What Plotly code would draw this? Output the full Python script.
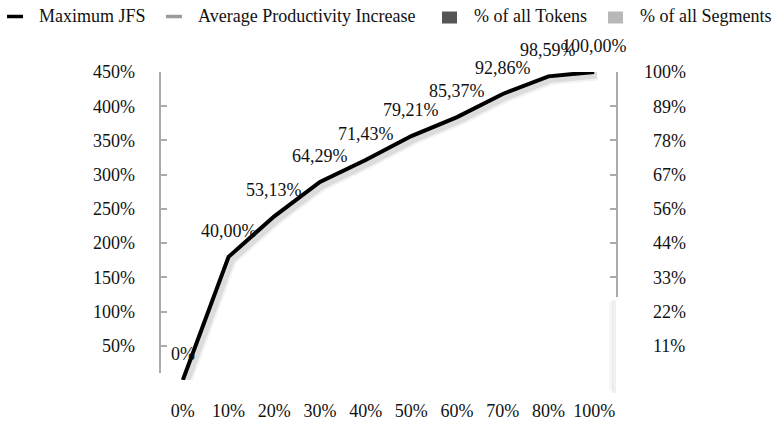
import plotly.graph_objects as go

# ---- data -------------------------------------------------------------
categories = ["0%", "10%", "20%", "30%", "40%", "50%", "60%", "70%", "80%", "100%"]
max_jfs = [0.0, 40.00, 53.13, 64.29, 71.43, 79.21, 85.37, 92.86, 98.59, 100.00]
avg_productivity = []     # series listed in the legend, no points
tokens_share = []         # bar series listed in the legend, no bars
segments_share = []

left_tick_vals = [0, 50, 100, 150, 200, 250, 300, 350, 400, 450]
left_tick_text = ["", "50%", "100%", "150%", "200%", "250%", "300%", "350%", "400%", "450%"]
right_tick_text = ["11%", "22%", "33%", "44%", "56%", "67%", "78%", "89%", "100%"]

legend_names = ["Maximum JFS", "Average Productivity Increase", "% of all Tokens", "% of all Segments"]
legend_kinds = ["line", "line", "box", "box"]
legend_colors = ["#000000", "#9a9a9a", "#555555", "#b8b8b8"]

# ---- styling ----------------------------------------------------------
W, H = 780, 422
M_L, M_R, M_T, M_B = 160, 163, 72, 42
PW, PH = W - M_L - M_R, H - M_T - M_B
FONT = dict(family="Liberation Serif, Times New Roman, serif", size=18, color="#111111")
AXIS_GREY = "#ababab"


def px_x(px):
    return (px - M_L) / PW


def px_y(py):
    return (H - M_B - py) / PH


def fmt_pct(v):
    return "0%" if v == 0 else f"{v:.2f}".replace(".", ",") + "%"


right_tick_vals = [100 * (k + 1) / len(right_tick_text) for k in range(len(right_tick_text))]
widest = max(len(t) for t in right_tick_text)
right_tick_padded = ["\u00a0" * (2 * (widest - len(t))) + t for t in right_tick_text]

n = len(categories)
idx = list(range(n))
shift_px = 3
x_unit = PW / n
y_unit = PH / 100.0

fig = go.Figure()

# empty series (legend only)
fig.add_trace(go.Bar(x=categories[:0], y=tokens_share, name=legend_names[2],
                     marker_color=legend_colors[2], showlegend=False))
fig.add_trace(go.Bar(x=categories[:0], y=segments_share, name=legend_names[3],
                     marker_color=legend_colors[3], showlegend=False))
fig.add_trace(go.Scatter(x=avg_productivity, y=avg_productivity, name=legend_names[1],
                         mode="lines", line=dict(color=legend_colors[1]),
                         xaxis="x", yaxis="y3", showlegend=False))

# soft drop shadow under the main line
for w, a in [(11, 0.05), (7, 0.09)]:
    fig.add_trace(go.Scatter(x=idx, y=max_jfs, mode="lines", xaxis="x2", yaxis="y4",
                             line=dict(color=f"rgba(0,0,0,{a})", width=w),
                             hoverinfo="skip", showlegend=False, cliponaxis=False))

# main line
fig.add_trace(go.Scatter(x=idx, y=max_jfs, mode="lines", name=legend_names[0],
                         xaxis="x", yaxis="y2",
                         line=dict(color="#000000", width=4), showlegend=False,
                         cliponaxis=False))

# value labels above each point
for i, v in zip(idx, max_jfs):
    fig.add_annotation(x=i, y=v, xref="x", yref="y2", text=fmt_pct(v), showarrow=False,
                       yshift=26, font=FONT, xanchor="center", yanchor="middle")

# legend drawn at the top
leg_x = [7, 166, 442, 608]
for name, kind, col, lx in zip(legend_names, legend_kinds, legend_colors, leg_x):
    if kind == "line":
        fig.add_shape(type="line", xref="paper", yref="paper",
                      x0=px_x(lx), x1=px_x(lx + 16), y0=px_y(16.5), y1=px_y(16.5),
                      line=dict(color=col, width=3.5))
    else:
        fig.add_shape(type="rect", xref="paper", yref="paper",
                      x0=px_x(lx), x1=px_x(lx + 15), y0=px_y(23.5), y1=px_y(11.5),
                      fillcolor=col, line=dict(width=0))
    fig.add_annotation(x=px_x(lx + 30), y=px_y(16.5), xref="paper", yref="paper",
                       text=name, showarrow=False, xanchor="left", yanchor="middle",
                       font=FONT)

# left axis line (stops just short of the baseline tick)
fig.add_shape(type="line", xref="paper", yref="paper", x0=0, x1=0,
              y0=px_y(373), y1=1, line=dict(color=AXIS_GREY, width=2))
# right axis line (upper part) and faint shading below it
fig.add_shape(type="line", xref="paper", yref="paper", x0=1, x1=1,
              y0=px_y(297), y1=1, line=dict(color=AXIS_GREY, width=2))
fig.add_shape(type="line", xref="paper", yref="paper", x0=px_x(614), x1=px_x(614),
              y0=px_y(393), y1=px_y(300), line=dict(color="rgba(0,0,0,0.06)", width=4))
fig.add_shape(type="line", xref="paper", yref="paper", x0=px_x(611), x1=px_x(611),
              y0=px_y(390), y1=px_y(302), line=dict(color="rgba(0,0,0,0.035)", width=4))

fig.update_layout(
    width=W, height=H,
    margin=dict(l=M_L, r=M_R, t=M_T, b=M_B),
    paper_bgcolor="white", plot_bgcolor="white",
    font=FONT,
    showlegend=False,
    xaxis=dict(type="linear", range=[-0.5, n - 0.5], tickvals=idx, ticktext=categories,
               showgrid=False, zeroline=False, showline=False, ticks="",
               tickfont=FONT, ticklabelstandoff=18, automargin=False),
    xaxis2=dict(overlaying="x", range=[-0.5 - shift_px / x_unit, n - 0.5 - shift_px / x_unit],
                visible=False, automargin=False),
    yaxis=dict(range=[0, 450], tickvals=left_tick_vals, ticktext=left_tick_text,
               showgrid=False, zeroline=False, showline=False,
               ticks="inside", ticklen=7, tickwidth=2, tickcolor=AXIS_GREY,
               tickfont=FONT, ticklabelstandoff=24, automargin=False),
    yaxis2=dict(overlaying="y", side="right", range=[0, 100], tickvals=right_tick_vals,
                ticktext=right_tick_padded, showgrid=False, zeroline=False, showline=False,
                ticks="", tickfont=FONT, ticklabelstandoff=26, automargin=False),
    yaxis3=dict(overlaying="y", side="right", range=[0, 100],
                tickvals=[v for v in right_tick_vals if v > 30],
                showticklabels=False, showgrid=False, zeroline=False, showline=False,
                ticks="inside", ticklen=7, tickwidth=2, tickcolor=AXIS_GREY,
                automargin=False),
    yaxis4=dict(overlaying="y", range=[shift_px / y_unit, 100 + shift_px / y_unit],
                visible=False, automargin=False),
)

fig.write_html("out.html")
